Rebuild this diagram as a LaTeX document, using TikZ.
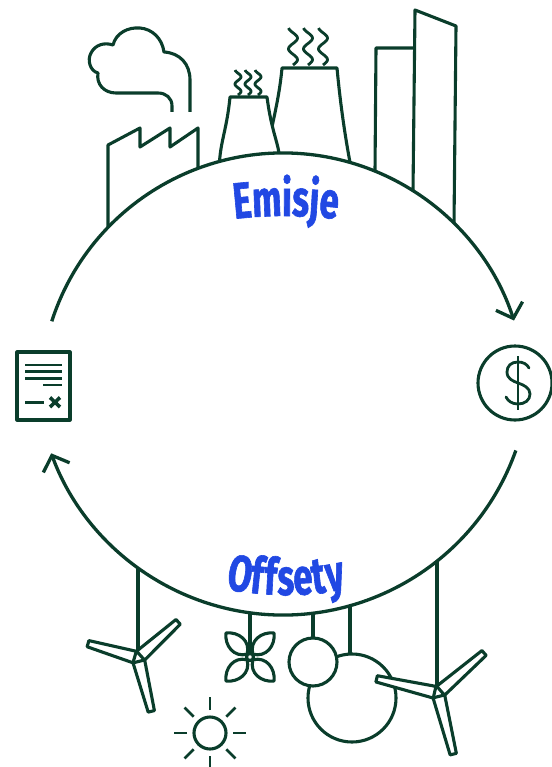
\documentclass[tikz,border=0pt]{standalone}
\usepackage{fontspec}
\newfontfamily\labelfont{Fira Sans}[FakeStretch=0.68,FakeBold=1.2]
\usetikzlibrary{arrows.meta,decorations.text}
\definecolor{deep}{HTML}{0A3D2B}
\definecolor{labelblue}{HTML}{2148E3}
% height of the upper and lower cycle arcs above a given x
\newcommand\ytop[1]{396-243*sqrt(1-((#1-283)/243)^2)}
\newcommand\ybot[1]{368+247*sqrt(1-((#1-283)/247)^2)}
\begin{document}
\begin{tikzpicture}[x=1pt,y=-1pt,
  icon/.style={draw=deep,line width=3.1pt,line join=round},
  thin icon/.style={draw=deep,line width=2.8pt},
  cycleline/.style={draw=deep,line width=3.3pt,
    -{Straight Barb[length=13pt,width=28pt,line width=3.3pt]}},
  bladefill/.style={icon,fill=white}]
\useasboundingbox (0,0) rectangle (551,767);

% ---------- industry on the upper arc ----------
% factory with saw-tooth roof
\draw[icon] (108,{\ytop{108}}) -- (108,145) -- (140,128) -- (140,147)
  -- (170,128) -- (170,147) -- (198,128) -- (198,{\ytop{198}});
% chimney smoke cloud
\draw[icon] (172,112) -- (172,106) .. controls (172,98) and (166,93) .. (158,93)
  -- (116,93) .. controls (104,93) and (96,84) .. (98,73)
  .. controls (90,71) and (87,60) .. (91,53)
  .. controls (95,45) and (104,42) .. (113,45)
  .. controls (116,33) and (128,27) .. (140,28)
  .. controls (152,29) and (162,38) .. (164,52)
  .. controls (180,53) and (190,64) .. (190,80) -- (190,112);
% large cooling tower
\draw[icon] (272,127) .. controls (276,108) and (280,90) .. (282,68) -- (337,68)
  .. controls (340,100) and (344,130) .. (350,{\ytop{350}});
% small cooling tower in front
\filldraw[icon,fill=white] (219.5,{\ytop{219.5}}) .. controls (221,140) and (227,128) .. (230,97)
  -- (267,97) .. controls (271,128) and (277,140) .. (279,{\ytop{279}});
% steam
\foreach \sx in {293,308,323}
  \draw[thin icon] plot[smooth,domain=0:1,samples=30,variable=\t]
    ({\sx+4.5*sin(620*\t)},{65-37*\t});
\foreach \sx in {238,248,258}
  \draw[thin icon] plot[smooth,domain=0:1,samples=25,variable=\t]
    ({\sx+3*sin(620*\t)},{95-25*\t});
% office towers
\draw[icon] (375,{\ytop{375}}) -- (376,48) -- (414,48);
\draw[icon] (413,{\ytop{413}}) -- (415,10) -- (456,26) -- (454,{\ytop{454}});

% ---------- certificate icon ----------
\draw[icon] (17,352) rectangle (70,420);
\draw[thin icon] (25,365) -- (62,365) (25,371.7) -- (62,371.7)
  (25,378.3) -- (62,378.3) (43,385) -- (62,385) (25,402.3) -- (44,402.3);
\draw[deep,line width=3.6pt] (50,397.5) -- (60,407) (50,407) -- (60,397.5);

% ---------- money icon ----------
\draw[icon] (515,383) circle[radius=37];
\draw[thin icon,line cap=round] (529,368) .. controls (527,364) and (523,362) .. (518,362)
  .. controls (511,362) and (507,366) .. (507,372)
  .. controls (507,379) and (513,381) .. (518,383)
  .. controls (524,385) and (530,388) .. (530,394)
  .. controls (530,400) and (525,404) .. (518,404)
  .. controls (512,404) and (508,401) .. (506,397);
\draw[thin icon] (518,356) -- (518,410);

% ---------- offsets hanging from the lower arc ----------
% stems
\draw[icon] (138,{\ybot{138}}) -- (138,652);
\draw[icon] (437,{\ybot{437}}) -- (437,687);
\draw[icon] (250,{\ybot{250}}) -- (250,653);
\draw[icon] (313,{\ybot{313}}) -- (313,638);
\draw[icon] (350,{\ybot{350}}) -- (350,654);
% balloons
\draw[icon] (352,698) circle[radius=44];
\filldraw[icon,fill=white] (313,662) circle[radius=24];
% wind turbines
\begin{scope}[shift={(138,658)}]
  \foreach \a/\L in {42/54,164/52,284/55}
    \filldraw[bladefill,rotate=\a] (3.5,-6) -- (\L,-3.2) -- (\L,3.2) -- (3.5,6) -- cycle;
\end{scope}
\begin{scope}[shift={(438,693)}]
  \foreach \a/\L in {41/61,167/63,284/63}
    \filldraw[bladefill,rotate=\a] (3.5,-6) -- (\L,-3.2) -- (\L,3.2) -- (3.5,6) -- cycle;
\end{scope}
% flower
\begin{scope}[shift={(250,657)}]
  \foreach \a in {45,135,225,315}
    \draw[icon,rotate=\a] (4,0) .. controls (11,12) and (26,10) .. (34,0)
      .. controls (26,-10) and (11,-12) .. (4,0);
  \draw[icon] (0,0) circle[radius=3.5];
\end{scope}
% sun
\draw[icon] (210,733) circle[radius=16];
\foreach \a in {0,45,...,315}
  \draw[thin icon] (210,733) ++(\a:23) -- ++(\a:13);

% ---------- the cycle ----------
\draw[cycleline] (283,396) ++(197.9:243) arc[start angle=197.9,end angle=341.9,radius=243];
\draw[cycleline] (283,368) ++(19.5:247) arc[start angle=19.5,end angle=159.8,radius=247];

% ---------- labels ----------
\path[decorate,decoration={text along path,text align=center,
  text={|\labelfont\bfseries\fontsize{51}{51}\selectfont\color{labelblue}|Emisje}}]
  (286,666) ++(250:450) arc[start angle=250,end angle=290,radius=450];
\path[decorate,decoration={text along path,text align=center,
  text={|\labelfont\bfseries\fontsize{51}{51}\selectfont\color{labelblue}|Of{\kern2pt}f{\kern1.5pt}set{\kern2pt}y}}]
  (286,295) ++(110:300) arc[start angle=110,end angle=70,radius=300];
\end{tikzpicture}
\end{document}
